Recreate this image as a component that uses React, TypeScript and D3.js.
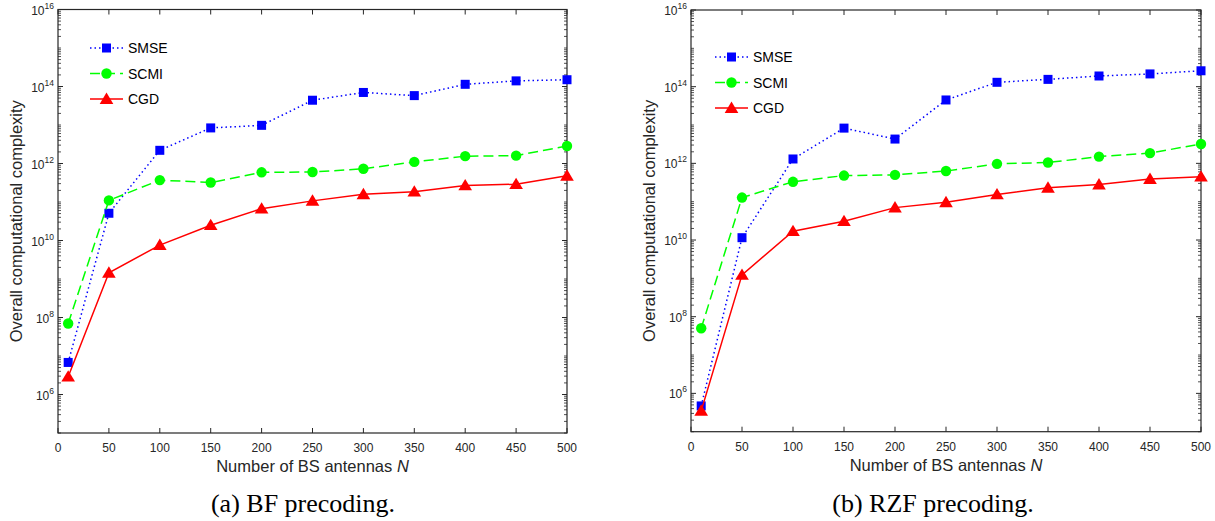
import React from "react";
import * as d3 from "d3";

const antennas = [10, 50, 100, 150, 200, 250, 300, 350, 400, 450, 500];
const xTicks = [0, 50, 100, 150, 200, 250, 300, 350, 400, 450, 500];
const yLabelExps = [6, 8, 10, 12, 14, 16];

const bfSMSE = [6.8e6, 5.1e10, 2.2e12, 8.4e12, 9.8e12, 4.4e13, 7e13, 5.8e13, 1.14e14, 1.4e14, 1.5e14];
const bfSCMI = [7e7, 1.1e11, 3.7e11, 3.2e11, 5.9e11, 6e11, 7.3e11, 1.1e12, 1.55e12, 1.6e12, 2.85e12];
const bfCGD = [2.9e6, 1.45e9, 7.6e9, 2.5e10, 6.7e10, 1.07e11, 1.58e11, 1.85e11, 2.7e11, 2.9e11, 4.8e11];

const rzfSMSE = [4.7e5, 1.15e10, 1.3e12, 8.3e12, 4.3e12, 4.5e13, 1.3e14, 1.55e14, 1.9e14, 2.15e14, 2.6e14];
const rzfSCMI = [5e7, 1.28e11, 3.3e11, 4.8e11, 5e11, 6.3e11, 9.7e11, 1.05e12, 1.5e12, 1.85e12, 3.2e12];
const rzfCGD = [3.5e5, 1.23e9, 1.7e10, 3.1e10, 7e10, 9.6e10, 1.55e11, 2.3e11, 2.8e11, 3.9e11, 4.5e11];

const seriesNames = ["SMSE", "SCMI", "CGD"];
const seriesColors = ["#0000ff", "#00ff00", "#ff0000"];
const seriesDash = ["1.5 3", "10 5", "none"];
const seriesMarker = ["square", "circle", "triangle"];

const SANS = "'Liberation Sans', Arial, Helvetica, sans-serif";
const AXIS = "#262626";

function Marker({ kind, x, y, color }: { kind: string; x: number; y: number; color: string }) {
  if (kind === "square") return <rect x={x - 4.5} y={y - 4.5} width={9} height={9} fill={color} />;
  if (kind === "circle") return <circle cx={x} cy={y} r={5.2} fill={color} />;
  const s = 6.5;
  return <path d={`M${x},${y - s}L${x + s * 1.05},${y + s * 0.75}L${x - s * 1.05},${y + s * 0.75}Z`} fill={color} />;
}

function Panel(props: {
  x0: number; x1: number; y0: number; y1: number;
  data: number[][]; legendDx: number; legendDy: number;
  caption: string; captionX: number; ylabelX: number;
}) {
  const { x0, x1, y0, y1, data, legendDx, legendDy, caption, captionX, ylabelX } = props;
  const xs = d3.scaleLinear().domain([0, 500]).range([x0, x1]);
  const ys = d3.scaleLog().domain([1e5, 1e16]).range([y1, y0]);
  const line = d3.line<number>().x((_, i) => xs(antennas[i])).y((v) => ys(v));

  const minor: { v: number }[] = [];
  for (let e = 5; e < 16; e++) {
    for (let k = 1; k <= 9; k++) {
      const v = k * Math.pow(10, e);
      if (k === 1 && yLabelExps.includes(e)) continue;
      minor.push({ v });
    }
  }

  return (
    <g>
      <rect x={x0} y={y0} width={x1 - x0} height={y1 - y0} fill="none" stroke={AXIS} strokeWidth={1.2} />
      {xTicks.map((t) => (
        <g key={"xt" + t}>
          <line x1={xs(t)} x2={xs(t)} y1={y1} y2={y1 - 5} stroke={AXIS} />
          <line x1={xs(t)} x2={xs(t)} y1={y0} y2={y0 + 5} stroke={AXIS} />
          <text x={xs(t)} y={y1 + 19} textAnchor="middle" fontFamily={SANS} fontSize={12} fill={AXIS}>{t}</text>
        </g>
      ))}
      {minor.map((m, i) => (
        <g key={"ym" + i}>
          <line x1={x0} x2={x0 + 3} y1={ys(m.v)} y2={ys(m.v)} stroke={AXIS} strokeWidth={0.8} />
          <line x1={x1} x2={x1 - 3} y1={ys(m.v)} y2={ys(m.v)} stroke={AXIS} strokeWidth={0.8} />
        </g>
      ))}
      {yLabelExps.map((e) => (
        <g key={"ye" + e}>
          <line x1={x0} x2={x0 + 5} y1={ys(Math.pow(10, e))} y2={ys(Math.pow(10, e))} stroke={AXIS} />
          <line x1={x1} x2={x1 - 5} y1={ys(Math.pow(10, e))} y2={ys(Math.pow(10, e))} stroke={AXIS} />
          <text x={x0 - 4} y={ys(Math.pow(10, e)) + 5} textAnchor="end" fontFamily={SANS} fontSize={12} fill={AXIS}>
            10<tspan dy={-6} fontSize={8.5}>{e}</tspan>
          </text>
        </g>
      ))}
      {data.map((vals, si) => (
        <g key={"s" + si}>
          <path d={line(vals) || ""} fill="none" stroke={seriesColors[si]} strokeWidth={1.5}
            strokeDasharray={seriesDash[si] === "none" ? undefined : seriesDash[si]} />
          {vals.map((v, i) => (
            <Marker key={i} kind={seriesMarker[si]} x={xs(antennas[i])} y={ys(v)} color={seriesColors[si]} />
          ))}
        </g>
      ))}
      {seriesNames.map((n, si) => {
        const ly = y0 + legendDy + si * 25.5;
        const lx = x0 + legendDx;
        return (
          <g key={"l" + si}>
            <line x1={lx} x2={lx + 33} y1={ly} y2={ly} stroke={seriesColors[si]} strokeWidth={1.5}
              strokeDasharray={seriesDash[si] === "none" ? undefined : seriesDash[si]} />
            <Marker kind={seriesMarker[si]} x={lx + 16.5} y={ly} color={seriesColors[si]} />
            <text x={lx + 38} y={ly + 5} fontFamily={SANS} fontSize={14} fill="#000">{n}</text>
          </g>
        );
      })}
      <text x={(x0 + x1) / 2} y={y1 + 39} textAnchor="middle" fontFamily={SANS} fontSize={16.5} fill={AXIS}>
        Number of BS antennas <tspan fontStyle="italic">N</tspan>
      </text>
      <text transform={`translate(${ylabelX},${(y0 + y1) / 2}) rotate(-90)`} textAnchor="middle" fontFamily={SANS}
        fontSize={16.5} fill={AXIS}>Overall computational complexity</text>
      <text x={captionX} y={512} textAnchor="middle" fontFamily="'Liberation Serif', 'Times New Roman', serif"
        fontSize={26} fill="#000">{caption}</text>
    </g>
  );
}

export default function App() {
  return (
    <svg width={1215} height={521} style={{ position: "absolute", left: 0, top: 0, background: "#fff" }}>
      <Panel x0={58} x1={567} y0={9.5} y1={433} data={[bfSMSE, bfSCMI, bfCGD]} legendDx={32} legendDy={38.5}
        caption="(a) BF precoding." captionX={303} ylabelX={22} />
      <Panel x0={691} x1={1201} y0={10} y1={431.7} data={[rzfSMSE, rzfSCMI, rzfCGD]} legendDx={24} legendDy={47}
        caption="(b) RZF precoding." captionX={933} ylabelX={655} />
    </svg>
  );
}
